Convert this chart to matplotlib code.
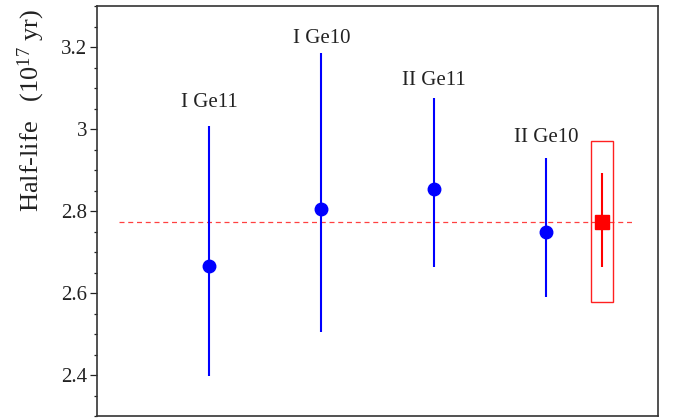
import matplotlib
matplotlib.use("Agg")
import matplotlib.pyplot as plt
from matplotlib.patches import Rectangle
from matplotlib.ticker import MultipleLocator

plt.rcParams['font.family'] = ['Liberation Serif', 'DejaVu Serif']
plt.rcParams['mathtext.fontset'] = 'custom'
plt.rcParams['mathtext.rm'] = 'Liberation Serif'
plt.rcParams['mathtext.it'] = 'Liberation Serif:italic'

# Data
labels = ["I Ge11", "I Ge10", "II Ge11", "II Ge10"]
x_pos = [1, 2, 3, 4]
values = [2.666, 2.805, 2.853, 2.750]
err_low = [0.268, 0.300, 0.188, 0.160]
err_high = [0.341, 0.381, 0.222, 0.179]
label_y = [3.053, 3.209, 3.107, 2.968]

combined_x = 4.5
combined_value = 2.774
combined_err_low = 0.110
combined_err_high = 0.120
box_low = 2.580
box_high = 2.970

fig = plt.figure(figsize=(6.73, 4.19), dpi=100)
ax = fig.add_axes([0.1441, 0.006, 0.8336, 0.9797])

ax.errorbar(x_pos, values, yerr=[err_low, err_high], fmt='o', color='#0000ff',
            ecolor='#0000ff', elinewidth=1.5, markersize=9, capsize=0, zorder=3)

ax.errorbar([combined_x], [combined_value], yerr=[[combined_err_low], [combined_err_high]],
            fmt='s', color='#ff0000', ecolor='#ff0000', elinewidth=1.5, markersize=9.5,
            capsize=0, zorder=3)

ax.add_patch(Rectangle((combined_x - 0.1, box_low), 0.2, box_high - box_low,
                       fill=False, edgecolor='#ff2020', linewidth=1.0, zorder=2))

ax.plot([0.2, 4.77], [combined_value, combined_value], linestyle=(0, (4, 3)),
        color='#ff4040', linewidth=0.9, zorder=1)

for xp, yl, lab in zip(x_pos, label_y, labels):
    ax.text(xp, yl, lab, ha='center', va='baseline', fontsize=15, color='#222222')

ax.set_xlim(0, 5)
ax.set_ylim(2.3, 3.3)
ax.set_xticks([])
ax.yaxis.set_major_locator(MultipleLocator(0.2))
ax.yaxis.set_minor_locator(MultipleLocator(0.05))
ax.set_yticks([2.4, 2.6, 2.8, 3.0, 3.2])
ax.set_yticklabels(['2.4', '2.6', '2.8', '3', '3.2'])
ax.tick_params(axis='y', which='major', direction='out', length=5, width=0.9,
               labelsize=15, pad=2, colors='#222222')
ax.tick_params(axis='y', which='minor', direction='out', length=2.5, width=0.9,
               colors='#222222')

for s in ax.spines.values():
    s.set_color('#333333')
    s.set_linewidth(1.2)

ax.set_ylabel('Half-life   (10$^{17}$ yr)', fontsize=19, color='#222222')
ax.yaxis.set_label_coords(-0.089, 0.745)

fig.savefig('out.png', dpi=100)
